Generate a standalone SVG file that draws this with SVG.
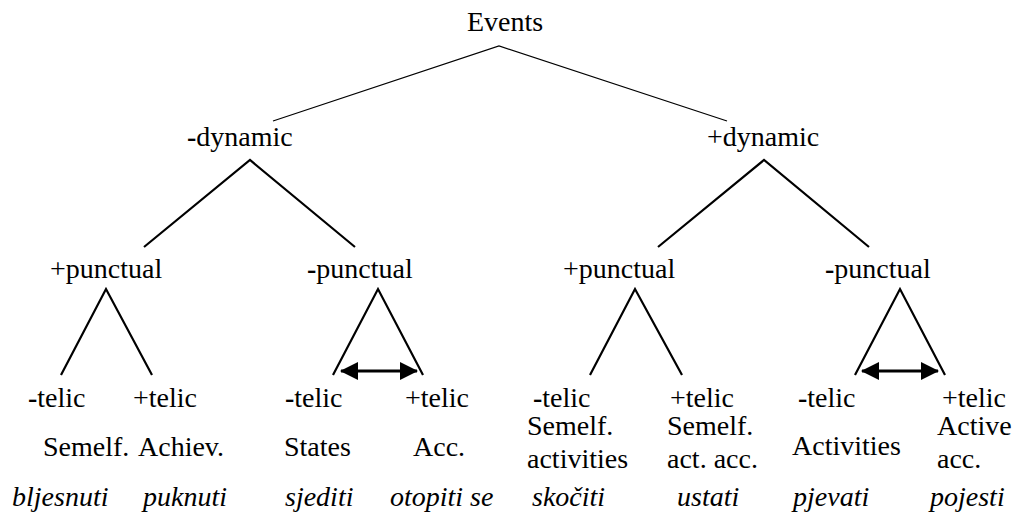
<svg xmlns="http://www.w3.org/2000/svg" width="1018" height="515" viewBox="0 0 1018 515">
<style>
text{font-family:'Liberation Serif','DejaVu Serif',serif;font-size:28px;fill:#000}
.it{font-style:italic}
.m{font-weight:bold}
.thin{stroke:#000;stroke-width:1.2;fill:none}
.br{stroke:#000;stroke-width:2.2;fill:none}
.arr{stroke:#000;stroke-width:3;fill:none;marker-start:url(#ah);marker-end:url(#ah)}
</style>
<defs>
<marker id="ah" markerUnits="userSpaceOnUse" markerWidth="20" markerHeight="20" refX="17" refY="9" orient="auto-start-reverse">
<path d="M0,0 L18,9 L0,18 Z" fill="#000"/>
</marker>
</defs>
<rect width="1018" height="515" fill="#fff"/>
<g id="connectors">
<polyline class="thin" points="273,121 499,46 727,121"/>
<polyline class="br" points="144,247 250,160 355,247"/>
<polyline class="br" points="658,247 764,160 869,247"/>
<polyline class="br" points="61,375 106,289 152,375"/>
<polyline class="br" points="333,375 378,289 423,375"/>
<polyline class="br" points="590,375 635,289 682,375"/>
<polyline class="br" points="855,375 900,289 945,375"/>
<line class="arr" x1="341" y1="371" x2="417" y2="371"/>
<line class="arr" x1="862" y1="371" x2="938" y2="371"/>
</g>
<g id="events"><text x="505" y="31" text-anchor="middle">Events</text></g>
<g id="minus-dynamic"><text x="187" y="146"><tspan class="m">-</tspan>dynamic</text></g>
<g id="plus-dynamic"><text x="707" y="146">+dynamic</text></g>
<g id="l-plus-punctual"><text x="50" y="278">+punctual</text></g>
<g id="l-minus-punctual"><text x="307" y="278"><tspan class="m">-</tspan>punctual</text></g>
<g id="r-plus-punctual"><text x="563" y="278">+punctual</text></g>
<g id="r-minus-punctual"><text x="825" y="278"><tspan class="m">-</tspan>punctual</text></g>
<g id="leaf1">
<text x="28" y="407"><tspan class="m">-</tspan>telic</text>
<text x="43" y="456">Semelf.</text>
<text class="it" x="12" y="506">bljesnuti</text>
</g>
<g id="leaf2">
<text x="133" y="407">+telic</text>
<text x="138" y="456">Achiev.</text>
<text class="it" x="143" y="506">puknuti</text>
</g>
<g id="leaf3">
<text x="285" y="407"><tspan class="m">-</tspan>telic</text>
<text x="284" y="456">States</text>
<text class="it" x="285" y="506">sjediti</text>
</g>
<g id="leaf4">
<text x="405" y="407">+telic</text>
<text x="413" y="456">Acc.</text>
<text class="it" x="390" y="506">otopiti se</text>
</g>
<g id="leaf5">
<text x="533" y="407"><tspan class="m">-</tspan>telic</text>
<text x="527" y="435">Semelf.</text>
<text x="527" y="468">activities</text>
<text class="it" x="532" y="506">skočiti</text>
</g>
<g id="leaf6">
<text x="670" y="407">+telic</text>
<text x="667" y="435">Semelf.</text>
<text x="667" y="468">act. acc.</text>
<text class="it" x="677" y="506">ustati</text>
</g>
<g id="leaf7">
<text x="798" y="407"><tspan class="m">-</tspan>telic</text>
<text x="792" y="455">Activities</text>
<text class="it" x="793" y="506">pjevati</text>
</g>
<g id="leaf8">
<text x="942" y="407">+telic</text>
<text x="937" y="435">Active</text>
<text x="937" y="468">acc.</text>
<text class="it" x="930" y="506">pojesti</text>
</g>
</svg>
